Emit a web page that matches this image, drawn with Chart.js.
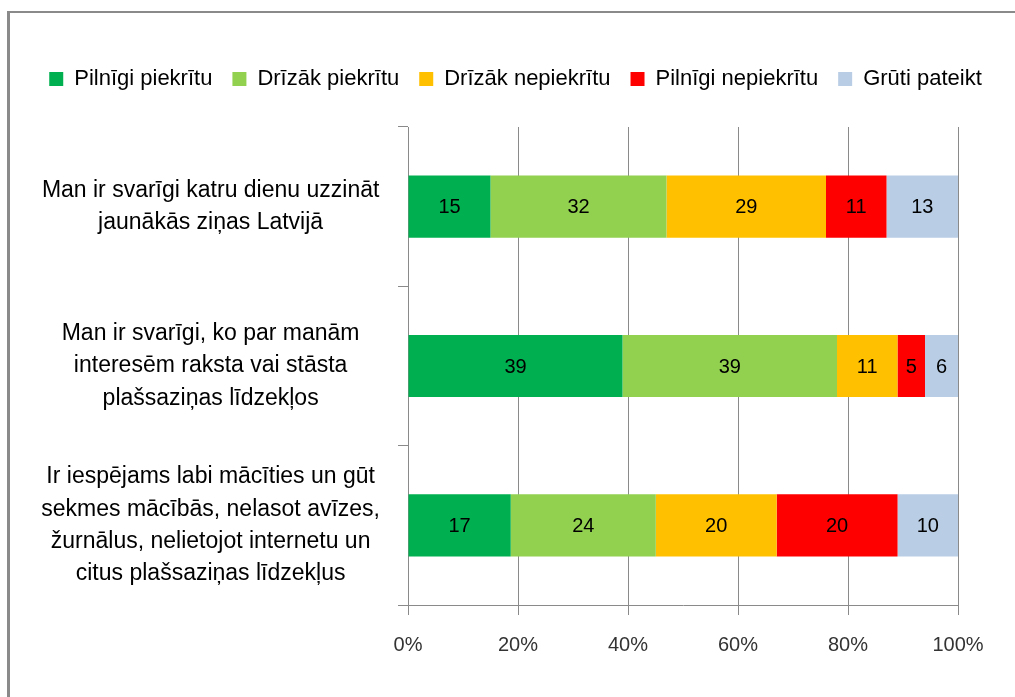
<!DOCTYPE html>
<html>
<head>
<meta charset="utf-8">
<script src="https://cdn.jsdelivr.net/npm/chart.js@4.4.1/dist/chart.umd.min.js"></script>
<style>
  html, body { margin: 0; padding: 0; background: #fff; overflow: hidden; }
  #frame {
    position: absolute; left: 7px; top: 11px; width: 1200px; height: 900px;
    border-left: 3px solid #8a8a8a; border-top: 2px solid #8a8a8a;
  }
  #wrap { position: absolute; left: 0; top: 0; width: 1015px; height: 697px; }
</style>
</head>
<body>
<div id="frame"></div>
<div id="wrap"><canvas id="chart"></canvas></div>
<script>
const categories = [
  ["Man ir svarīgi katru dienu uzzināt", "jaunākās ziņas Latvijā"],
  ["Man ir svarīgi, ko par manām", "interesēm raksta vai stāsta", "plašsaziņas līdzekļos"],
  ["Ir iespējams labi mācīties un gūt", "sekmes mācībās, nelasot avīzes,", "žurnālus, nelietojot internetu un", "citus plašsaziņas līdzekļus"]
];
const seriesNames = ["Pilnīgi piekrītu", "Drīzāk piekrītu", "Drīzāk nepiekrītu", "Pilnīgi nepiekrītu", "Grūti pateikt"];
const fullyAgree = [15, 39, 17];
const ratherAgree = [32, 39, 24];
const ratherDisagree = [29, 11, 20];
const fullyDisagree = [11, 5, 20];
const hardToSay = [13, 6, 10];
const xTicks = [0, 20, 40, 60, 80, 100];

const colors = ["#00B050", "#92D050", "#FFC000", "#FF0000", "#B9CDE5"];
const allSeries = [fullyAgree, ratherAgree, ratherDisagree, fullyDisagree, hardToSay];
const FONT = "'Liberation Sans', Arial, sans-serif";

// 100% stacked: each row is scaled to its own total
const rowTotals = categories.map((_, i) => allSeries.reduce((s, arr) => s + arr[i], 0));

const datasets = allSeries.map((arr, k) => ({
  label: seriesNames[k],
  data: arr.map((v, i) => (v / rowTotals[i]) * 100),
  raw: arr,
  backgroundColor: colors[k],
  borderWidth: 0,
  categoryPercentage: 1,
  barPercentage: 0.39
}));

// value labels in the middle of each segment
const barValues = {
  id: "barValues",
  afterDatasetsDraw(chart) {
    const ctx = chart.ctx;
    ctx.save();
    ctx.font = "20px " + FONT;
    ctx.fillStyle = "#000";
    ctx.textAlign = "center";
    ctx.textBaseline = "middle";
    chart.data.datasets.forEach((ds, k) => {
      chart.getDatasetMeta(k).data.forEach((bar, i) => {
        const p = bar.getCenterPoint();
        ctx.fillText(String(ds.raw[i]), p.x, p.y + 1);
      });
    });
    ctx.restore();
  }
};

new Chart(document.getElementById("chart"), {
  type: "bar",
  data: { labels: categories, datasets: datasets },
  plugins: [barValues],
  options: {
    indexAxis: "y",
    responsive: true,
    maintainAspectRatio: false,
    animation: false,
    layout: { padding: { left: 26, right: 10, top: 48, bottom: 10 } },
    plugins: {
      legend: {
        position: "top",
        labels: {
          boxWidth: 14,
          boxHeight: 14,
          padding: 20,
          color: "#000",
          font: { family: FONT, size: 22 }
        }
      },
      subtitle: {
        display: true,
        text: "",
        weight: 500,
        font: { size: 1, lineHeight: 1 },
        padding: { top: 26, bottom: 0 }
      },
      tooltip: { enabled: false }
    },
    scales: {
      x: {
        stacked: true,
        min: 0,
        max: 100,
        afterBuildTicks: (s) => { s.ticks = xTicks.map((v) => ({ value: v })); },
        afterFit: (s) => { s.height = 82; },
        ticks: {
          padding: 18,
          color: "#333",
          font: { family: FONT, size: 20 },
          callback: (v) => v + "%"
        },
        grid: { color: "#8a8a8a", lineWidth: 1, tickLength: 10 },
        border: { color: "#8a8a8a", width: 1 }
      },
      y: {
        stacked: true,
        afterFit: (s) => { s.width = 382; },
        ticks: {
          crossAlign: "center",
          padding: 18,
          color: "#000",
          font: { family: FONT, size: 23, lineHeight: 1.4 }
        },
        grid: { offset: true, drawOnChartArea: false, color: "#8a8a8a", tickLength: 10 },
        border: { color: "#8a8a8a", width: 1 }
      },
      // empty right-hand strip so the plot ends where the original does
      spacer: {
        axis: "y",
        position: "right",
        display: true,
        ticks: { display: false },
        grid: { display: false },
        border: { display: false },
        afterFit: (s) => { s.width = 47; }
      }
    }
  }
});
</script>
</body>
</html>
